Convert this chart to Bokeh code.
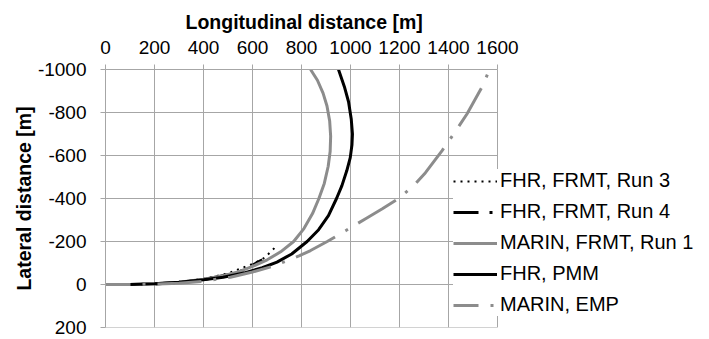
from bokeh.plotting import figure
from bokeh.models import Range1d, FixedTicker, Legend, LegendItem, Title
from bokeh.embed import file_html
from bokeh.resources import INLINE

# ---- data ----
x_ticks = [0, 200, 400, 600, 800, 1000, 1200, 1400, 1600]
x_tick_labels = ["0", "200", "400", "600", "800", "1000", "1200", "1400", "1600"]
y_ticks = [-1000, -800, -600, -400, -200, 0, 200]
y_tick_labels = ["-1000", "-800", "-600", "-400", "-200", "0", "200"]

run3_x = [0, 100, 200, 300, 400, 500, 600, 650, 690]
run3_y = [0, 0, -3, -11, -26, -52, -95, -125, -170]

run4_x = [0, 100, 200, 300, 400, 500, 560, 600, 640]
run4_y = [0, 0, -2, -10, -23, -45, -65, -90, -115]

marin_frmt_x = [0, 100, 200, 300, 400, 470, 540, 600, 660, 715, 768, 810, 845, 871,
                893, 909, 917, 919, 915, 904, 888, 865, 837]
marin_frmt_y = [0, 0, -3, -11, -25, -38, -58, -84, -115, -152, -200, -260, -330, -400,
                -470, -550, -620, -690, -760, -830, -890, -950, -1000]

fhr_pmm_x = [0, 100, 200, 300, 400, 480, 560, 640, 700, 760, 823, 870, 910, 943,
             965, 985, 999, 1006, 1008, 1003, 992, 975, 951]
fhr_pmm_y = [0, 0, -3, -10, -22, -34, -52, -78, -104, -142, -200, -255, -320, -400,
             -460, -530, -590, -650, -700, -770, -850, -920, -1000]

marin_emp_x = [0, 100, 200, 300, 400, 510, 600, 680, 735, 790, 837, 905, 980, 1060,
               1130, 1197, 1260, 1306, 1374, 1430, 1476, 1501, 1540, 1567]
marin_emp_y = [0, 0, -2, -6, -15, -34, -58, -84, -108, -133, -158, -200, -250, -305,
               -352, -400, -462, -520, -623, -715, -794, -845, -925, -1000]

labels = ["FHR, FRMT, Run 3", "FHR, FRMT, Run 4", "MARIN, FRMT, Run 1", "FHR, PMM", "MARIN, EMP"]
x_title = "Longitudinal distance [m]"
y_title = "Lateral distance [m]"

GRID = "#a6a6a6"
GRAY = "#8c8c8c"
FONT = "Liberation Sans"

# plot area: 0..1600 m spans 392 px; the frame continues to the right so that
# the legend (which overlaps the plot area) is not clipped
PX_PER_SPAN = 392
FRAME_W = 604
x_end = x_ticks[-1] * FRAME_W / PX_PER_SPAN

p = figure(frame_width=FRAME_W, frame_height=258,
           x_range=Range1d(x_ticks[0], x_end), y_range=Range1d(y_ticks[-1], y_ticks[0]),
           x_axis_location="above",
           min_border_left=105, min_border_right=0, min_border_top=69, min_border_bottom=12,
           output_backend="svg", toolbar_location=None)
p.background_fill_color = "white"
p.border_fill_color = "white"
p.outline_line_color = None
p.xgrid.visible = False
p.ygrid.visible = False

p.xaxis.ticker = FixedTicker(ticks=x_ticks)
p.yaxis.ticker = FixedTicker(ticks=y_ticks)
p.xaxis.major_label_overrides = {t: s for t, s in zip(x_ticks, x_tick_labels)}
p.yaxis.major_label_overrides = {t: s for t, s in zip(y_ticks, y_tick_labels)}
p.xaxis.bounds = (x_ticks[0], x_ticks[-1])

for ax in (p.xaxis, p.yaxis):
    ax.axis_line_color = GRID
    ax.major_tick_line_color = GRID
    ax.major_tick_out = 5
    ax.major_tick_in = 0
    ax.minor_tick_line_color = None
    ax.major_label_text_font = FONT
    ax.major_label_text_font_size = "19px"
    ax.major_label_text_color = "black"
    ax.axis_label_text_font = FONT
    ax.axis_label_text_font_size = "19.5px"
    ax.axis_label_text_font_style = "bold"
    ax.axis_label_text_color = "black"

p.yaxis.axis_label = y_title
p.xaxis.major_label_standoff = 11
p.yaxis.major_label_standoff = 14
p.yaxis.axis_label_standoff = 0

# x-axis title centred over the 0..1600 part of the plot area
p.add_layout(Title(text=x_title, align="left", offset=80, standoff=5,
                   vertical_align="top",
                   text_font=FONT, text_font_size="19.5px", text_font_style="bold",
                   text_color="black"), "above")

# grid lines limited to the 0..1600 x 200..-1000 plot area
p.segment(x0=x_ticks, y0=[y_ticks[-1]] * len(x_ticks), x1=x_ticks, y1=[y_ticks[0]] * len(x_ticks),
          line_color=GRID, line_width=1, level="underlay")
p.segment(x0=[x_ticks[0]] * len(y_ticks), y0=y_ticks, x1=[x_ticks[-1]] * len(y_ticks), y1=y_ticks,
          line_color=GRID, line_width=1, level="underlay")

r3 = p.line(run3_x, run3_y, line_color="black", line_width=2, line_dash="2 5")
r4 = p.line(run4_x, run4_y, line_color="black", line_width=3, line_dash="25 11 3 11")
rm = p.line(marin_frmt_x, marin_frmt_y, line_color=GRAY, line_width=3)
rp = p.line(fhr_pmm_x, fhr_pmm_y, line_color="black", line_width=3)
re = p.line(marin_emp_x, marin_emp_y, line_color=GRAY, line_width=3,
            line_dash="44 12 3 12", line_dash_offset=19)

legend = Legend(items=[
    LegendItem(label=labels[0], renderers=[r3]),
    LegendItem(label=labels[1], renderers=[r4]),
    LegendItem(label=labels[2], renderers=[rm]),
    LegendItem(label=labels[3], renderers=[rp]),
    LegendItem(label=labels[4], renderers=[re]),
], location=(348, 11))
legend.margin = 0
legend.padding = 6
legend.spacing = 8
legend.glyph_width = 44
legend.glyph_height = 20
legend.label_height = 20
legend.label_standoff = 3
legend.label_text_font = FONT
legend.label_text_font_size = "20px"
legend.label_text_color = "black"
legend.background_fill_color = "white"
legend.background_fill_alpha = 1.0
legend.border_line_color = None
p.add_layout(legend)

open("out.html", "w").write(file_html(p, INLINE))
